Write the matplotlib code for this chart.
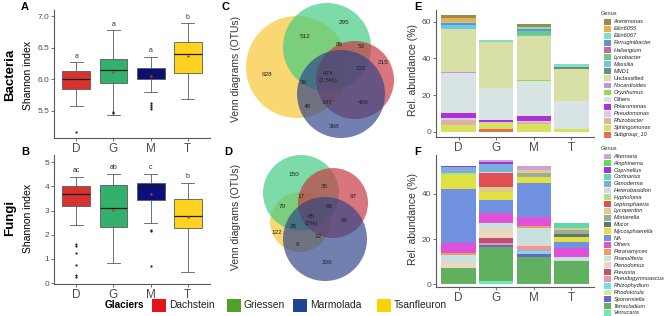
import matplotlib.pyplot as plt
from matplotlib.patches import Circle, Rectangle

plt.rcParams['font.family'] = ['Liberation Sans', 'DejaVu Sans']

glaciers = ['D', 'G', 'M', 'T']
glacier_names = ['Dachstein', 'Griessen', 'Marmolada', 'Tsanfleuron']
box_colors = ['#D8322E', '#34B06E', '#0B0F7E', '#FFD21F']
legend_colors = ['#E3141B', '#4FA127', '#1F4594', '#FFD000']

# Shannon index summaries: bacteria
bac_q1 = [5.84, 5.95, 6.00, 6.10]
bac_med = [6.00, 6.15, 6.09, 6.40]
bac_q3 = [6.13, 6.33, 6.18, 6.60]
bac_lo = [5.58, 5.44, 5.80, 5.69]
bac_hi = [6.27, 6.78, 6.36, 6.89]
bac_mean = [5.98, 6.11, 6.05, 6.37]
bac_fliers = [[5.16], [5.46, 5.48], [5.53, 5.56, 5.59, 5.62], []]
bac_letters = ['a', 'a', 'a', 'b']

# Shannon index summaries: fungi
fun_q1 = [3.19, 2.32, 3.45, 2.26]
fun_med = [3.70, 3.12, 3.97, 2.77]
fun_q3 = [4.01, 4.07, 4.16, 3.49]
fun_lo = [2.42, 0.85, 2.47, 0.44]
fun_hi = [4.40, 4.52, 4.52, 4.15]
fun_mean = [3.36, 3.04, 3.67, 2.74]
fun_fliers = [[1.60, 1.53, 1.26, 0.75, 0.34, 0.25], [], [2.19, 2.16, 0.71], []]
fun_letters = ['ac', 'ab', 'c', 'b']

# venn counts (OTUs)
venn_bac = ['628', '512', '295', '86', '53', '215', '474\n(3.5%)', '132', '36', '48', '147', '409', '368']
venn_fun = ['150', '35', '97', '17', '70', '68', '85\n(2%)', '28', '90', '122', '12', '8', '206']

# bacteria genera (legend order, top of stack first)
bac_genera = ['Arenimonas', 'Ellin6055', 'Ellin6067', 'Ferruginibacter', 'Haliangium',
              'Lysobacter', 'Massilia', 'MND1', 'Unclassified', 'Nocardioides',
              'Oryzihumus', 'Others', 'Polaromonas', 'Pseudomonas', 'Rhizobacter',
              'Sphingomonas', 'Subgroup_10']
bac_colors = ['#9C8B4A', '#E8B04A', '#7FE0C8', '#6A8FD0', '#C07088',
              '#6CCB80', '#6CC8E0', '#6E8E78', '#D8E0A8', '#C890E0',
              '#88E048', '#D8E4E4', '#B030D8', '#D4CCEA', '#E0B0A0',
              '#D8E060', '#E07050']
bac_values = [[1.2, 0, 1.5, 0], [2.3, 0, 0, 0], [0.8, 1.0, 1.0, 1.5], [1.0, 0, 1.0, 0],
              [0, 0, 0, 0], [0, 0, 2.0, 0], [2.0, 0, 1.0, 0], [0, 0, 0, 1.0],
              [23.5, 25.0, 23.7, 17.5], [0.7, 0, 0, 0], [0, 0, 0.9, 0],
              [21.8, 17.5, 19.0, 15.5], [2.7, 1.2, 2.7, 0], [1.0, 0.6, 0.3, 0],
              [2.7, 0, 1.5, 0], [3.8, 3.5, 4.0, 1.5], [0, 1.2, 0, 0]]

# fungi genera (legend order, top of stack first)
fun_genera = ['Alternaria', 'Amphinema', 'Coprinellus', 'Cortinarius', 'Ganoderma',
              'Heterobasidion', 'Hypholoma', 'Leptosphaeria', 'Lycoperdon', 'Mortierella',
              'Mucor', 'Mycosphaerella', 'NA', 'Others', 'Paranamyces', 'Phanoliferia',
              'Plenodomus', 'Preussia', 'Pseudogymnoascus', 'Rhizophydium', 'Rhodotorula',
              'Sporormiella', 'Tetracladium', 'Verrucaria']
fun_colors = ['#D0A0D8', '#60E050', '#A030E0', '#60D8A8', '#78B0D8',
              '#D4D4EA', '#B0E080', '#E05050', '#E0C890', '#98B098',
              '#607868', '#E0E040', '#7090E0', '#E050D8', '#E8A060', '#C8E0E0',
              '#E8D8C0', '#C05070', '#E898A8', '#70E0E0', '#C8F098',
              '#7060D0', '#60B060', '#70E8B8']
fun_values = [[0, 0.8, 1.7, 0], [0, 0, 0, 0], [0.6, 1.1, 0, 0], [0, 0, 0, 2.3],
              [2.7, 3.4, 0, 0], [0, 0.7, 0, 0], [0.7, 0, 0, 0], [0, 6.2, 0, 0],
              [0, 2.0, 1.2, 0.7], [0, 0, 1.8, 1.8], [0, 0, 0, 1.5],
              [6.0, 3.7, 2.7, 1.9], [24.0, 5.9, 15.4, 2.9], [4.5, 4.4, 3.8, 4.0],
              [1.0, 0, 1.1, 0], [2.9, 2.3, 7.1, 1.5], [3.0, 4.4, 0.7, 0],
              [0, 2.0, 0, 0], [0, 1.0, 2.1, 0], [0, 0, 1.5, 0], [0, 0, 0, 0],
              [0, 1.0, 1.2, 0], [7.0, 14.8, 12.1, 10.4], [0, 1.5, 0, 0]]

W, H = 666, 316
fig = plt.figure(figsize=(6.66, 3.16), dpi=100)

# overlay axes in pixel coordinates for venn, legends and labels
ov = fig.add_axes([0, 0, 1, 1])
ov.set_xlim(0, W)
ov.set_ylim(H, 0)
ov.axis('off')


def px_axes(left, top, right, bottom):
    return fig.add_axes([left / W, 1 - bottom / H, (right - left) / W, (bottom - top) / H])


def style(ax):
    for s in ['top', 'right']:
        ax.spines[s].set_visible(False)
    for s in ['left', 'bottom']:
        ax.spines[s].set_color('#595959')
        ax.spines[s].set_linewidth(0.8)
    ax.tick_params(length=2, width=0.6, color='#595959', labelcolor='#4D4D4D', pad=1.5)
    ax.tick_params(axis='x', labelsize=8.5)
    ax.tick_params(axis='y', labelsize=6)
    ax.set_facecolor('none')


def box_panel(ax, q1, med, q3, lo, hi, mean, fliers, letters, ylim, yticks, fmt):
    stats = []
    for i in range(4):
        stats.append(dict(q1=q1[i], med=med[i], q3=q3[i], whislo=lo[i], whishi=hi[i],
                          fliers=fliers[i], label=glaciers[i]))
    bp = ax.bxp(stats, positions=[1, 2, 3, 4], widths=0.75, patch_artist=True,
                capwidths=0.36,
                boxprops=dict(edgecolor='#5a5a5a', linewidth=0.6),
                whiskerprops=dict(color='#5a5a5a', linewidth=0.6),
                capprops=dict(color='#5a5a5a', linewidth=0.6),
                medianprops=dict(color='#1a1a1a', linewidth=0.9),
                flierprops=dict(marker='o', markersize=1.6, markerfacecolor='#222222',
                                markeredgecolor='none'))
    for patch, c in zip(bp['boxes'], box_colors):
        patch.set_facecolor(c)
    ax.scatter([1, 2, 3, 4], mean, s=3, color='#C0392B', zorder=5, linewidths=0)
    span = ylim[1] - ylim[0]
    for i, t in enumerate(letters):
        ax.text(i + 1, hi[i] + span * 0.02, t, ha='center', va='bottom', fontsize=5, color='#333333')
    ax.set_xlim(0.4, 4.6)
    ax.set_ylim(*ylim)
    ax.set_yticks(yticks)
    ax.set_yticklabels([fmt.format(v) for v in yticks])
    style(ax)


axA = px_axes(54, 10, 210, 138)
box_panel(axA, bac_q1, bac_med, bac_q3, bac_lo, bac_hi, bac_mean, bac_fliers, bac_letters,
          (5.07, 7.1), [5.5, 6.0, 6.5, 7.0], '{:.1f}')
axB = px_axes(54, 155, 210, 284)
box_panel(axB, fun_q1, fun_med, fun_q3, fun_lo, fun_hi, fun_mean, fun_fliers, fun_letters,
          (-0.04, 5.3), [0, 1, 2, 3, 4, 5], '{:d}')


def bar_panel(ax, values, colors, ylim, yticks):
    x = [1, 2, 3, 4]
    bottom = [0, 0, 0, 0]
    for vals, col in zip(values[::-1], colors[::-1]):
        ax.bar(x, vals, bottom=bottom, width=0.92, color=col, linewidth=0)
        bottom = [b + v for b, v in zip(bottom, vals)]
    ax.set_xticks(x)
    ax.set_xticklabels(glaciers)
    ax.set_xlim(0.4, 4.6)
    ax.set_ylim(*ylim)
    ax.set_yticks(yticks)
    style(ax)


axE = px_axes(436, 10, 594, 137)
bar_panel(axE, bac_values, bac_colors, (-2.9, 66.5), [0, 20, 40, 60])
axF = px_axes(436, 155, 594, 287)
bar_panel(axF, fun_values, fun_colors, (-1.3, 57.3), [0, 20, 40])


def genus_legend(top, step, names, colors, upright):
    ov.text(601, top - 8, 'Genus', fontsize=4.1, color='#333333', va='center')
    for i, (n, c) in enumerate(zip(names, colors)):
        y = top + i * step
        ov.add_patch(Rectangle((603.5, y - 2.9), 7.5, 5.8, color=c, lw=0))
        ov.text(613.5, y, n, fontsize=4.1, va='center', color='#222222',
                style='normal' if n in upright else 'italic')


genus_legend(21.7, 7.08, bac_genera, bac_colors, ['Unclassified', 'Others'])
genus_legend(156.5, 6.8, fun_genera, fun_colors, [])

# venn diagrams
venn_cols = ['#F7C531', '#3FCB80', '#C8363F', '#2E4488']
c_circles = [(297, 67, 51), (327, 47, 44), (355, 80, 39), (341, 94, 44)]
c_pos = [(267, 75), (305, 37), (344, 23), (339, 44), (361, 46), (383, 63), (328, 77),
         (361, 69), (303, 82), (307, 106), (327, 103), (363, 102), (334, 127)]
d_circles = [(300, 222, 30), (301, 193, 38), (333, 203, 35), (325, 239, 42)]
d_pos = [(294, 175), (324, 186), (353, 196), (301, 197), (282, 206), (329, 206), (311, 220),
         (293, 226), (344, 221), (277, 232), (318, 236), (297, 244), (327, 262)]
for circles, pos, labels in [(c_circles, c_pos, venn_bac), (d_circles, d_pos, venn_fun)]:
    for (cx, cy, r), col in zip(circles, venn_cols):
        ov.add_patch(Circle((cx, cy), r, facecolor=col, alpha=0.68, edgecolor='none'))
    for (x, y), t in zip(pos, labels):
        ov.text(x, y, t, ha='center', va='center', fontsize=4.6, color='#222222',
                linespacing=1.3)

# axis titles and panel letters
for y, t in [(75, 'Bacteria'), (218, 'Fungi')]:
    ov.text(10, y, t, rotation=90, fontsize=9.5, fontweight='bold', ha='center', va='center')
for y in [75, 218]:
    ov.text(28, y, 'Shannon index', rotation=90, fontsize=7.5, ha='center', va='center')
for y in [69, 217]:
    ov.text(236, y, 'Venn diagrams (OTUs)', rotation=90, fontsize=7.5, ha='center',
            va='center', color='#333333')
for y in [70, 219]:
    ov.text(413, y, 'Rel. abundance (%)', rotation=90, fontsize=7.5, ha='center',
            va='center', color='#333333')
for x, y, t in [(25, 7, 'A'), (25, 152, 'B'), (226, 7, 'C'), (228, 152, 'D'),
                (418, 7, 'E'), (418, 152, 'F')]:
    ov.text(x, y, t, fontsize=8, fontweight='bold', ha='center', va='center')

# glacier legend
ov.text(105, 305, 'Glaciers', fontsize=7.2, fontweight='bold', va='center')
leg_x = [152, 227, 293, 377]
for x, c, n in zip(leg_x, legend_colors, glacier_names):
    ov.add_patch(Rectangle((x, 298.5), 14, 13, color=c, lw=0))
    ov.text(x + 17, 305, n, fontsize=7.4, va='center', color='#222222')

fig.savefig('out.png', dpi=100)
